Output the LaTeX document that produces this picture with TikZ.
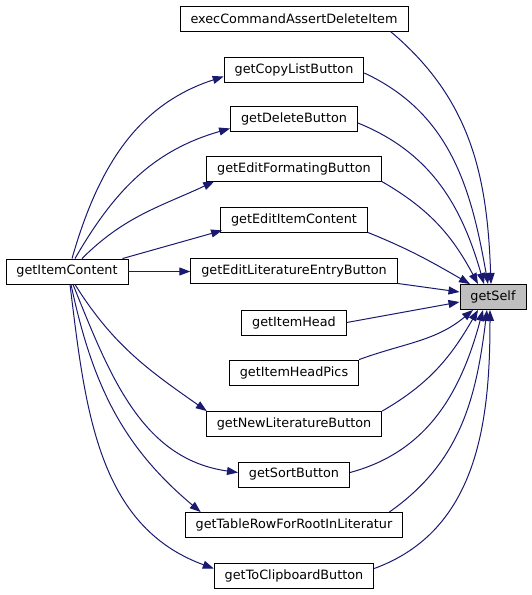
\documentclass[tikz,border=0pt]{standalone}
\usepackage{fontspec}
\setmainfont{DejaVu Sans}
\usetikzlibrary{arrows.meta}
\definecolor{midnightblue}{HTML}{191970}

\begin{document}
\begin{tikzpicture}[x=1pt, y=1pt,
    fn/.style={draw=black, line width=0.9pt, fill=white, minimum height=25pt,
        inner xsep=10.5pt, inner ysep=0pt, font=\fontsize{12.8}{14}\selectfont},
    selffn/.style={fn, fill=black!25},
    call/.style={draw=midnightblue, line width=1pt,
        -{Triangle[length=11pt, width=8pt]}}]
    \useasboundingbox (0,0) rectangle (532,-595);

    % caller, callee
    \node[fn] (content) at (67,-271.5) {getItemContent};
    \node[selffn] (self) at (493,-297) {getSelf};

    % middle column
    \node[fn] (exec)   at (294,-18.5)  {execCommandAssertDeleteItem};
    \node[fn] (copy)   at (294,-69.5)  {getCopyListButton};
    \node[fn] (del)    at (294,-118.5) {getDeleteButton};
    \node[fn] (fmt)    at (294,-168.5) {getEditFormatingButton};
    \node[fn] (edit)   at (294,-219.5) {getEditItemContent};
    \node[fn] (lit)    at (294,-270.5) {getEditLiteratureEntryButton};
    \node[fn] (head)   at (294,-322.5) {getItemHead};
    \node[fn] (pics)   at (294,-372.5) {getItemHeadPics};
    \node[fn] (newlit) at (294,-424)   {getNewLiteratureButton};
    \node[fn] (sort)   at (294,-474.5) {getSortButton};
    \node[fn] (table)  at (294,-525)   {getTableRowForRootInLiteratur};
    \node[fn] (clip)   at (294,-575.5) {getToClipboardButton};

    % getItemContent -> middle
    \draw[call] ([xshift=5]content.north) to[out=74, in=198] ([yshift=-7]copy.west);
    \draw[call] ([xshift=8]content.north) to[out=60, in=196] ([yshift=3]del.south west);
    \draw[call] ([xshift=15]content.north) to[out=45, in=205] ([xshift=8]fmt.south west);
    \draw[call] ([xshift=-6]content.north east) -- ([xshift=2,yshift=2]edit.south west);
    \draw[call] (content.east) -- (lit.west |- content.east);
    \draw[call] ([xshift=8]content.south) to[out=-58, in=145] ([xshift=1]newlit.north west);
    \draw[call] ([xshift=6]content.south) to[out=-68, in=172] ([yshift=2]sort.west);
    \draw[call] ([xshift=4]content.south) to[out=-78, in=140] ([xshift=16]table.north west);
    \draw[call] ([xshift=3]content.south) to[out=-83, in=160] ([yshift=7]clip.west);

    % middle -> getSelf
    \draw[call] ([xshift=-18]exec.south east) to[out=-40, in=92] ([xshift=-2]self.north);
    \draw[call] ([yshift=-3.5]copy.east) to[out=-25, in=100] ([xshift=-5]self.north);
    \draw[call] ([yshift=-4.5]del.east) to[out=-22, in=106] ([xshift=-9]self.north);
    \draw[call] (fmt.south east) to[out=-30, in=118] ([xshift=-15]self.north);
    \draw[call] (edit.south east) to[out=-22, in=150] ([xshift=-23]self.north);
    \draw[call] (lit.south east) -- ([yshift=5]self.west);
    \draw[call] (head.east) -- ([yshift=-5]self.west);
    \draw[call] (pics.north east) to[out=20, in=-140] ([xshift=-20]self.south);
    \draw[call] (newlit.north east) to[out=30, in=-120] ([xshift=-15]self.south);
    \draw[call] ([yshift=2]sort.east) to[out=15, in=-105] ([xshift=-10]self.south);
    \draw[call] ([xshift=-14]table.north east) to[out=35, in=-97] ([xshift=-6]self.south);
    \draw[call] ([yshift=7]clip.east) to[out=20, in=-90] ([xshift=-3]self.south);
\end{tikzpicture}
\end{document}
